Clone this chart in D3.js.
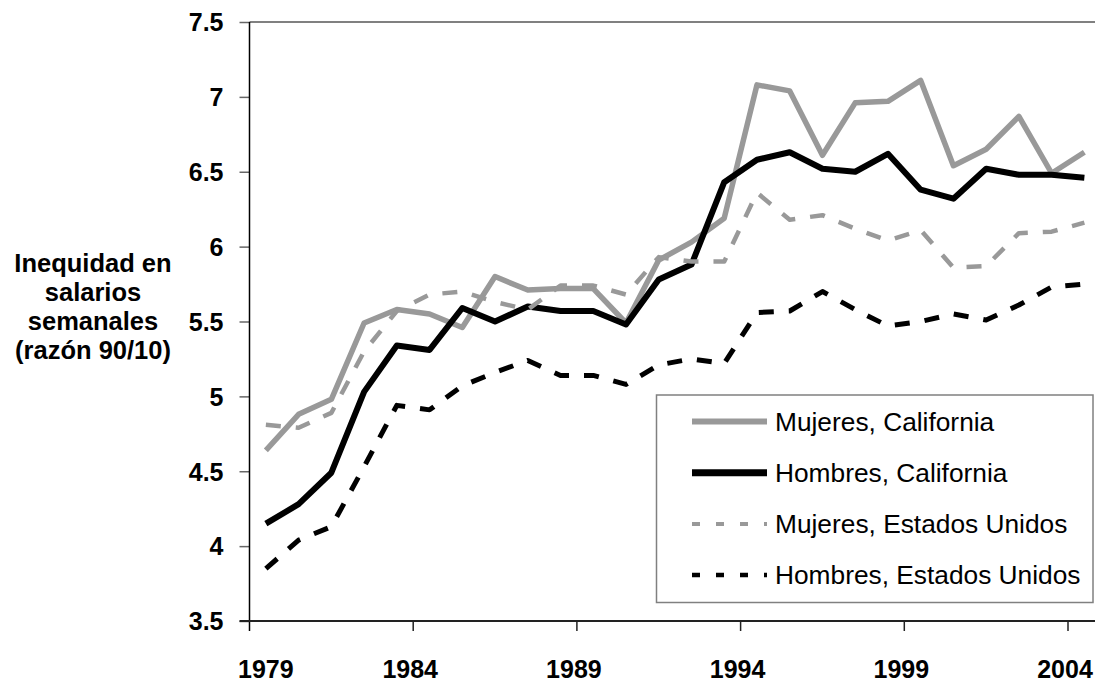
<!DOCTYPE html>
<html>
<head>
<meta charset="utf-8">
<script src="https://cdn.jsdelivr.net/npm/d3@7"></script>
<style>
  html, body { margin: 0; padding: 0; background: #fff; }
  svg { display: block; font-family: "Liberation Sans", Arial, sans-serif; }
  .tick text { font-weight: bold; font-size: 25px; fill: #000; }
</style>
</head>
<body>
<svg id="chart" width="1095" height="683"></svg>
<script>
const years = [1979,1980,1981,1982,1983,1984,1985,1986,1987,1988,1989,1990,1991,1992,1993,1994,1995,1996,1997,1998,1999,2000,2001,2002,2003,2004];
const mujeresCA = [4.64,4.88,4.98,5.49,5.58,5.55,5.46,5.80,5.71,5.72,5.72,5.49,5.91,6.03,6.19,7.08,7.04,6.61,6.96,6.97,7.11,6.54,6.65,6.87,6.49,6.63];
const hombresCA = [4.15,4.28,4.49,5.03,5.34,5.31,5.59,5.50,5.60,5.57,5.57,5.48,5.78,5.88,6.43,6.58,6.63,6.52,6.50,6.62,6.38,6.32,6.52,6.48,6.48,6.46];
const mujeresUS = [4.81,4.79,4.89,5.30,5.57,5.68,5.70,5.63,5.58,5.74,5.74,5.68,5.93,5.90,5.90,6.36,6.18,6.21,6.12,6.04,6.11,5.86,5.87,6.09,6.10,6.16];
const hombresUS = [3.85,4.04,4.13,4.53,4.94,4.91,5.07,5.16,5.24,5.14,5.14,5.08,5.21,5.25,5.22,5.56,5.57,5.70,5.58,5.47,5.50,5.55,5.51,5.61,5.73,5.75];
const seriesNames = ["Mujeres, California","Hombres, California","Mujeres, Estados Unidos","Hombres, Estados Unidos"];
const yTicks = [3.5,4,4.5,5,5.5,6,6.5,7,7.5];
const xTickYears = [1979,1984,1989,1994,1999,2004];
const yTitleLines = ["Inequidad en","salarios","semanales","(razón 90/10)"];

const seriesData = [mujeresCA, hombresCA, mujeresUS, hombresUS];
const styles = [
  {color:"#999999", width:5.5, dash:null, legendDash:null, legendWidth:6},
  {color:"#000000", width:6, dash:null, legendDash:null, legendWidth:7},
  {color:"#999999", width:4.5, dash:"15,15", legendDash:"8,16", legendWidth:4},
  {color:"#000000", width:5, dash:"15,15", legendDash:"8,16", legendWidth:4.5}
];

const svg = d3.select("#chart");
const plotLeft = 249.5, plotTop = 22, plotBottom = 621;
const bandW = 32.74;
const plotRight = plotLeft + bandW * years.length;

const x = d3.scaleBand().domain(years).range([plotLeft, plotRight]).padding(0);
const y = d3.scaleLinear().domain([3.5, 7.5]).range([plotBottom, plotTop]);
const cx = yr => x(yr) + x.bandwidth() / 2;

// top border line at 7.5
svg.append("line")
  .attr("x1", plotLeft).attr("x2", 1095)
  .attr("y1", y(7.5)).attr("y2", y(7.5))
  .attr("stroke", "#808080").attr("stroke-width", 2);

// Y axis
const yAxis = d3.axisLeft(y).tickValues(yTicks).tickSize(10).tickPadding(16)
  .tickFormat(d => (d % 1 === 0 ? String(d) : d.toFixed(1)));
const gy = svg.append("g").attr("transform", `translate(${plotLeft},0)`).call(yAxis);
gy.select(".domain").remove();
gy.selectAll(".tick line").attr("stroke", "#666").attr("stroke-width", 1.5);
gy.selectAll(".tick text").attr("dy", "0.35em");
svg.append("line").attr("x1", plotLeft).attr("x2", plotLeft)
  .attr("y1", plotTop).attr("y2", plotBottom + 10)
  .attr("stroke", "#000").attr("stroke-width", 1.5);

// X axis
svg.append("line").attr("x1", plotLeft - 10).attr("x2", 1095)
  .attr("y1", plotBottom).attr("y2", plotBottom)
  .attr("stroke", "#222").attr("stroke-width", 2);
const gx = svg.append("g");
xTickYears.forEach((yr, i) => {
  const tx = x(yr);
  if (i > 0) {
    gx.append("line").attr("x1", tx).attr("x2", tx)
      .attr("y1", plotBottom).attr("y2", plotBottom + 10)
      .attr("stroke", "#222").attr("stroke-width", 1.5);
  }
  gx.append("text")
    .attr("x", i === 0 ? cx(yr) : tx - 3)
    .attr("y", 678)
    .attr("text-anchor", "middle")
    .attr("font-weight", "bold").attr("font-size", 25)
    .text(yr);
});

// Y title
const yt = svg.append("text").attr("text-anchor", "middle")
  .attr("font-weight", "bold").attr("font-size", 25.5);
yTitleLines.forEach((t, i) => {
  yt.append("tspan").attr("x", 93).attr("y", 272 + i * 29).text(t);
});

// Lines
const line = d3.line().x((d, i) => cx(years[i])).y(d => y(d));
seriesData.forEach((data, k) => {
  const s = styles[k];
  svg.append("path").datum(data)
    .attr("d", line)
    .attr("fill", "none")
    .attr("stroke", s.color)
    .attr("stroke-width", s.width)
    .attr("stroke-linejoin", "round")
    .attr("stroke-linecap", "butt")
    .attr("stroke-dasharray", s.dash);
});

// Legend
const lg = svg.append("g");
lg.append("rect").attr("x", 656.5).attr("y", 395).attr("width", 436.5).attr("height", 207.5)
  .attr("fill", "#fff").attr("stroke", "#808080").attr("stroke-width", 1.5);
seriesNames.forEach((name, i) => {
  const s = styles[i];
  const ly = 421.5 + i * 51.2;
  lg.append("line").attr("x1", 692).attr("x2", 767).attr("y1", ly).attr("y2", ly)
    .attr("stroke", s.color).attr("stroke-width", s.legendWidth)
    .attr("stroke-dasharray", s.legendDash);
  lg.append("text").attr("x", 775).attr("y", ly).attr("dy", "0.35em")
    .attr("font-size", 26.3).attr("fill", "#000").text(name);
});
</script>
</body>
</html>
